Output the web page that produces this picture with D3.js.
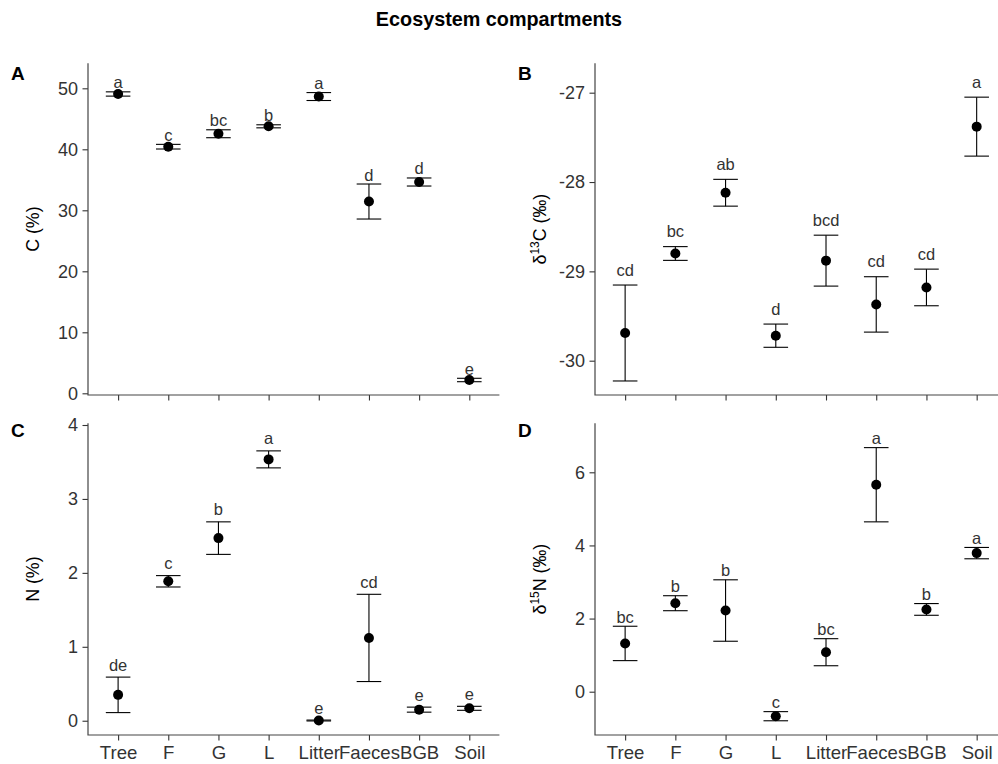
<!DOCTYPE html>
<html>
<head>
<meta charset="utf-8">
<script src="https://cdn.jsdelivr.net/npm/d3@7"></script>
<style>
  html, body { margin: 0; padding: 0; background: #fff; }
  svg { display: block; font-family: "Liberation Sans", Arial, sans-serif; }
</style>
</head>
<body>
<svg id="chart" width="998" height="764"></svg>
<script>
// Ecosystem compartments: means ± SE with significance letters
const categories = ["Tree", "F", "G", "L", "Litter", "Faeces", "BGB", "Soil"];

// Panel A: C (%)
const cMean = [49.07, 40.43, 42.55, 43.77, 48.65, 31.44, 34.64, 2.18];
const cSe   = [0.35, 0.38, 0.65, 0.25, 0.65, 2.87, 0.66, 0.28];
const cLetters = ["a", "c", "bc", "b", "a", "d", "d", "e"];

// Panel B: δ13C (‰)
const d13cMean = [-29.69, -28.80, -28.12, -29.72, -28.88, -29.37, -29.18, -27.38];
const d13cSe   = [0.537, 0.077, 0.15, 0.13, 0.285, 0.31, 0.205, 0.33];
const d13cLetters = ["cd", "bc", "ab", "d", "bcd", "cd", "cd", "a"];

// Panel C: N (%)
const nMean = [0.35, 1.886, 2.47, 3.535, 0.003, 1.12, 0.15, 0.168];
const nSe   = [0.24, 0.077, 0.22, 0.115, 0.006, 0.59, 0.034, 0.027];
const nLetters = ["de", "c", "b", "a", "e", "cd", "e", "e"];

// Panel D: δ15N (‰)
const d15nMean = [1.32, 2.42, 2.22, -0.67, 1.08, 5.66, 2.25, 3.79];
const d15nSe   = [0.47, 0.205, 0.84, 0.125, 0.37, 1.015, 0.16, 0.155];
const d15nLetters = ["bc", "b", "b", "c", "bc", "a", "b", "a"];

// Tick values per panel
const cTicks = [0, 10, 20, 30, 40, 50];
const d13cTicks = [-30, -29, -28, -27];
const nTicks = [0, 1, 2, 3, 4];
const d15nTicks = [0, 2, 4, 6];

const svg = d3.select("#chart");

svg.append("text")
  .attr("x", 499).attr("y", 25.5)
  .attr("text-anchor", "middle")
  .attr("font-size", 19.8).attr("font-weight", "bold")
  .attr("fill", "#000")
  .text("Ecosystem compartments");

const panels = [
  { tag: "A", mean: cMean, se: cSe, letters: cLetters, ticks: cTicks,
    domain: [-0.279, 54.10], left: 88, right: 499.4, top: 63.3, bottom: 395,
    title: [{ t: "C (%)" }], xLabels: false, gap: 3.5 },
  { tag: "B", mean: d13cMean, se: d13cSe, letters: d13cLetters, ticks: d13cTicks,
    domain: [-30.384, -26.671], left: 595, right: 1006.8, top: 63.3, bottom: 395,
    title: [{ t: "δ" }, { t: "13", sup: true }, { t: "C (‰)" }], xLabels: false, gap: 9.5 },
  { tag: "C", mean: nMean, se: nSe, letters: nLetters, ticks: nTicks,
    domain: [-0.193, 4.023], left: 88, right: 499.4, top: 423.3, bottom: 735,
    title: [{ t: "N (%)" }], xLabels: true, gap: 6.5 },
  { tag: "D", mean: d15nMean, se: d15nSe, letters: d15nLetters, ticks: d15nTicks,
    domain: [-1.184, 7.34], left: 595, right: 1006.8, top: 423.3, bottom: 735,
    title: [{ t: "δ" }, { t: "15", sup: true }, { t: "N (‰)" }], xLabels: true, gap: 3.5 }
];

panels.forEach(p => {
  const g = svg.append("g");
  const x = d3.scalePoint().domain(categories).range([p.left, p.right]).padding(0.6);
  const y = d3.scaleLinear().domain(p.domain).range([p.bottom, p.top]);

  // y axis
  const yAxis = g.append("g")
    .attr("transform", `translate(${p.left},0)`)
    .call(d3.axisLeft(y).tickValues(p.ticks).tickSize(5.5).tickPadding(4.5)
      .tickFormat(d => String(d)));
  yAxis.select(".domain").remove();
  yAxis.selectAll(".tick line").attr("stroke", "#333").attr("stroke-width", 1.1);
  yAxis.selectAll(".tick text").attr("font-size", 18).attr("fill", "#333")
    .attr("font-family", "Liberation Sans, Arial, sans-serif");

  // x axis
  const xAxis = g.append("g")
    .attr("transform", `translate(0,${p.bottom})`)
    .call(d3.axisBottom(x).tickSize(5.5).tickPadding(5.5)
      .tickFormat(d => p.xLabels ? d : ""));
  xAxis.select(".domain").remove();
  xAxis.selectAll(".tick line").attr("stroke", "#333").attr("stroke-width", 1.1);
  xAxis.selectAll(".tick text").attr("font-size", 18.6).attr("fill", "#333")
    .attr("font-family", "Liberation Sans, Arial, sans-serif");

  // axis lines (panel left and bottom)
  g.append("path")
    .attr("d", `M${p.left},${p.top}V${p.bottom}H${p.right}`)
    .attr("fill", "none").attr("stroke", "#444").attr("stroke-width", 1.2);

  const rows = categories.map((c, i) => ({
    c, m: p.mean[i], lo: p.mean[i] - p.se[i], hi: p.mean[i] + p.se[i], lab: p.letters[i]
  }));

  const capHalf = x.step() * 0.245;
  const bars = g.append("g").attr("stroke", "#000").attr("stroke-width", 1.1).attr("fill", "none");
  rows.forEach(r => {
    const cx = x(r.c);
    bars.append("line").attr("x1", cx).attr("x2", cx).attr("y1", y(r.hi)).attr("y2", y(r.lo));
    bars.append("line").attr("x1", cx - capHalf).attr("x2", cx + capHalf).attr("y1", y(r.hi)).attr("y2", y(r.hi));
    bars.append("line").attr("x1", cx - capHalf).attr("x2", cx + capHalf).attr("y1", y(r.lo)).attr("y2", y(r.lo));
  });

  g.append("g").selectAll("circle").data(rows).join("circle")
    .attr("cx", d => x(d.c)).attr("cy", d => y(d.m)).attr("r", 5)
    .attr("fill", "#000");

  g.append("g").selectAll("text").data(rows).join("text")
    .attr("x", d => x(d.c)).attr("y", d => y(d.hi) - p.gap)
    .attr("text-anchor", "middle").attr("font-size", 16.5).attr("fill", "#333")
    .text(d => d.lab);

  // y axis title
  const ty = (p.top + p.bottom) / 2;
  const title = g.append("text")
    .attr("transform", `translate(${p.left - 49.5},${ty}) rotate(-90)`)
    .attr("text-anchor", "middle").attr("font-size", 17.8).attr("fill", "#000");
  p.title.forEach(part => {
    if (part.sup) {
      title.append("tspan").attr("font-size", 12).attr("dy", -7).text(part.t);
    } else {
      const ts = title.append("tspan").text(part.t);
      if (title.selectAll("tspan").size() > 1) ts.attr("dy", 7);
    }
  });

  // panel tag
  svg.append("text")
    .attr("x", p.left - 77).attr("y", p.top + (p.tag === "A" || p.tag === "B" ? 16.7 : 13.5))
    .attr("font-size", 19).attr("font-weight", "bold").attr("fill", "#000")
    .text(p.tag);
});
</script>
</body>
</html>
